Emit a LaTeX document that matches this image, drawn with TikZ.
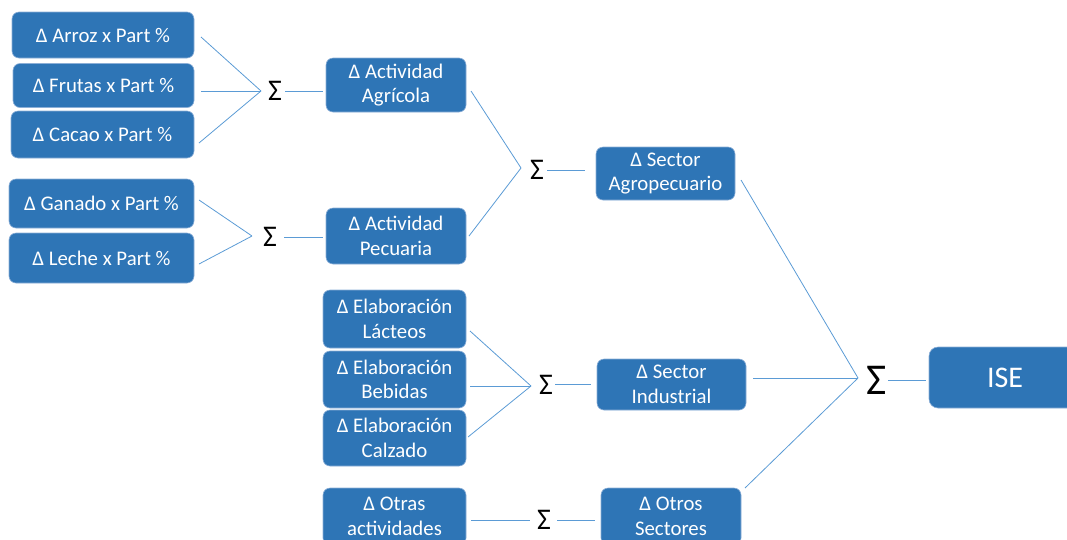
\documentclass[tikz,border=0pt]{standalone}
\usepackage{fontspec}
\setmainfont{Carlito}
\usetikzlibrary{calc}
\definecolor{boxblue}{RGB}{46,117,182}
\definecolor{lineblue}{RGB}{91,155,213}
\definecolor{edgeblue}{RGB}{140,175,215}
\begin{document}
\begin{tikzpicture}[x=1pt,y=-1pt,
  box/.style={draw=edgeblue, line width=0.6pt, fill=boxblue, rounded corners=7pt,
    text=white, align=center, inner sep=0pt, font=\fontsize{20.8}{24.5}\selectfont},
  sig/.style={inner sep=0pt, font=\fontsize{30}{30}\selectfont},
  conn/.style={draw=lineblue, line width=0.8pt}]
\useasboundingbox (0,0) rectangle (1067,539);
% boxes
\node[box, minimum width=182pt, minimum height=46pt] (arroz) at (103,35) {Δ Arroz x Part \%};
\node[box, minimum width=181pt, minimum height=44pt] (frutas) at (103.5,85.5) {Δ Frutas x Part \%};
\node[box, minimum width=183pt, minimum height=47pt] (cacao) at (102.5,134.5) {Δ Cacao x Part \%};
\node[box, minimum width=185pt, minimum height=49pt] (ganado) at (101.5,203.5) {Δ Ganado x Part \%};
\node[box, minimum width=185pt, minimum height=50pt] (leche) at (101.5,258) {Δ Leche x Part \%};
\node[box, minimum width=140pt, minimum height=54pt] (agricola) at (396,85) {Δ Actividad\\Agrícola};
\node[box, minimum width=140pt, minimum height=56pt] (pecuaria) at (396,236) {Δ Actividad\\Pecuaria};
\node[box, minimum width=139pt, minimum height=53pt] (agro) at (665.5,173.5) {Δ Sector\\Agropecuario};
\node[box, minimum width=143pt, minimum height=58pt] (lacteos) at (394.5,319) {Δ Elaboración\\Lácteos};
\node[box, minimum width=143pt, minimum height=57pt] (bebidas) at (394.5,379.5) {Δ Elaboración\\Bebidas};
\node[box, minimum width=143pt, minimum height=56pt] (calzado) at (394.5,438) {Δ Elaboración\\Calzado};
\node[box, minimum width=149pt, minimum height=51pt] (industrial) at (671.5,384.5) {Δ Sector\\Industrial};
\node[box, minimum width=143pt, minimum height=57pt] (otras) at (394.5,516.5) {Δ Otras\\actividades};
\node[box, minimum width=140pt, minimum height=57pt] (otros) at (671,516.5) {Δ Otros\\Sectores};
\node[box, minimum width=152pt, minimum height=61pt, rounded corners=9pt, font=\fontsize{30}{30}\selectfont] (ise) at (1005,377.5) {ISE};
% sums
\node[sig] (s1) at (275,91) {Σ};
\node[sig] (s2) at (270,237) {Σ};
\node[sig] (s3) at (537,170) {Σ};
\node[sig] (s4) at (546,385) {Σ};
\node[sig] (s5) at (544,520) {Σ};
\node[sig, font=\fontsize{44}{44}\selectfont] (s6) at (877,380) {Σ};
% connectors
\draw[conn] ($(arroz)+(98,2)$) -- ($(s1)+(-14,0)$);
\draw[conn] ($(frutas)+(97.5,5.5)$) -- ($(s1)+(-14,0)$);
\draw[conn] ($(cacao)+(96.5,8.5)$) -- ($(s1)+(-14,0)$);
\draw[conn] ($(s1)+(10,0)$) -- ($(agricola)+(-73,6)$);
\draw[conn] ($(ganado)+(97.5,-3.5)$) -- ($(s2)+(-18,-1)$);
\draw[conn] ($(leche)+(97.5,6)$) -- ($(s2)+(-18,-1)$);
\draw[conn] ($(s2)+(14,0)$) -- ($(pecuaria)+(-73,1)$);
\draw[conn] ($(agricola)+(75,6)$) -- ($(s3)+(-16,-2)$);
\draw[conn] ($(pecuaria)+(73,0)$) -- ($(s3)+(-16,-2)$);
\draw[conn] ($(s3)+(10,0)$) -- ($(agro)+(-80.5,-3.5)$);
\draw[conn] ($(lacteos)+(75.5,12)$) -- ($(s4)+(-15,1)$);
\draw[conn] ($(bebidas)+(75.5,6.5)$) -- ($(s4)+(-15,1)$);
\draw[conn] ($(calzado)+(73.5,-1)$) -- ($(s4)+(-15,1)$);
\draw[conn] ($(s4)+(9,-1)$) -- ($(industrial)+(-80.5,-0.5)$);
\draw[conn] ($(otras)+(76.5,3.5)$) -- ($(s5)+(-14,0)$);
\draw[conn] ($(s5)+(13,0)$) -- ($(otros)+(-76,3.5)$);
\draw[conn] ($(agro)+(75.5,6.5)$) -- ($(s6)+(-19,-2)$);
\draw[conn] ($(industrial)+(81.5,-6.5)$) -- ($(s6)+(-19,-2)$);
\draw[conn] ($(otros)+(74,-28.5)$) -- ($(s6)+(-19,-2)$);
\draw[conn] ($(s6)+(11,0)$) -- ($(ise)+(-79,2.5)$);
\end{tikzpicture}
\end{document}
